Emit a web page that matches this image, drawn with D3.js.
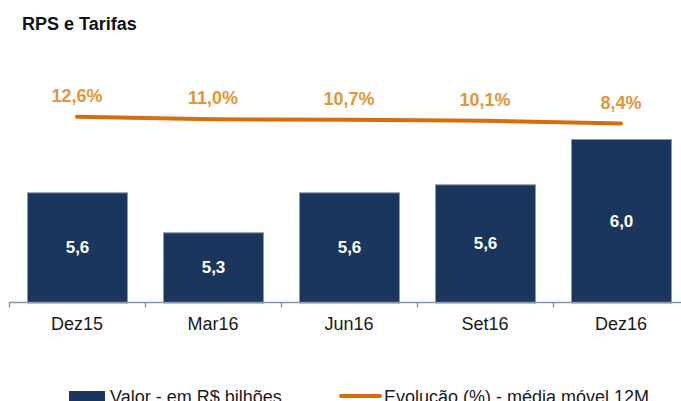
<!DOCTYPE html>
<html>
<head>
<meta charset="utf-8">
<script src="https://cdn.jsdelivr.net/npm/d3@7"></script>
<style>
  html, body { margin: 0; padding: 0; background: #fff; }
  svg { display: block; font-family: "Liberation Sans", Arial, sans-serif; }
</style>
</head>
<body>
<div id="root"></div>
<script>
// categories and series
const categories = ["Dez15", "Mar16", "Jun16", "Set16", "Dez16"];
const valores = [5.6, 5.3, 5.6, 5.66, 6.0];          // R$ bilhoes
const valorLabels = ["5,6", "5,3", "5,6", "5,6", "6,0"];
const evolucao = [12.6, 11.0, 10.7, 10.1, 8.4];      // % media movel 12M

const width = 681;
const height = 401;
const baseY = 302.5;

const svg = d3.select("#root").append("svg")
  .attr("width", width)
  .attr("height", height);

// title
svg.append("text")
  .attr("x", 22)
  .attr("y", 30)
  .attr("font-size", 18)
  .attr("font-weight", "bold")
  .attr("fill", "#111")
  .text("RPS e Tarifas");

// scales
const x = d3.scaleBand()
  .domain(categories)
  .range([9, 689])
  .paddingInner(0.265)
  .paddingOuter(0.1325);

const y = d3.scaleLinear()
  .domain([4.773, 6.0])
  .range([baseY, 139]);

const yLine = d3.scaleLinear()
  .domain([8.4, 12.6])
  .range([123.5, 116.7]);

const gap = (x.step() - x.bandwidth()) / 2;

// bars
svg.selectAll(".bar")
  .data(categories)
  .join("rect")
  .attr("class", "bar")
  .attr("x", d => x(d) + 0.5)
  .attr("y", (d, i) => y(valores[i]) + 0.5)
  .attr("width", x.bandwidth())
  .attr("height", (d, i) => baseY - y(valores[i]))
  .attr("fill", "#1b365d")
  .attr("stroke", "#8796ad")
  .attr("stroke-width", 1);

// bar labels
svg.selectAll(".bar-label")
  .data(categories)
  .join("text")
  .attr("class", "bar-label")
  .attr("x", d => x(d) + x.bandwidth() / 2 + 0.5)
  .attr("y", (d, i) => (y(valores[i]) + baseY) / 2 + 6)
  .attr("text-anchor", "middle")
  .attr("font-size", 17)
  .attr("font-weight", "bold")
  .attr("fill", "#fff")
  .text((d, i) => valorLabels[i]);

// axis line + ticks at category boundaries
svg.append("line")
  .attr("x1", 9).attr("x2", width)
  .attr("y1", baseY).attr("y2", baseY)
  .attr("stroke", "#8796ad")
  .attr("stroke-width", 1.5);

svg.selectAll(".tick")
  .data(categories)
  .join("line")
  .attr("class", "tick")
  .attr("x1", d => x(d) - gap + 0.5)
  .attr("x2", d => x(d) - gap + 0.5)
  .attr("y1", baseY)
  .attr("y2", baseY + 5)
  .attr("stroke", "#8796ad")
  .attr("stroke-width", 1.5);

svg.selectAll(".cat")
  .data(categories)
  .join("text")
  .attr("class", "cat")
  .attr("x", d => x(d) + x.bandwidth() / 2)
  .attr("y", 330)
  .attr("text-anchor", "middle")
  .attr("font-size", 18)
  .attr("fill", "#1a1a1a")
  .text(d => d);

// evolution line
const line = d3.line()
  .x((d, i) => x(categories[i]) + x.bandwidth() / 2)
  .y(d => yLine(d));

svg.append("path")
  .datum(evolucao)
  .attr("d", line)
  .attr("fill", "none")
  .attr("stroke", "#d46f0c")
  .attr("stroke-width", 4)
  .attr("stroke-linecap", "round");

svg.selectAll(".pct")
  .data(evolucao)
  .join("text")
  .attr("class", "pct")
  .attr("x", (d, i) => x(categories[i]) + x.bandwidth() / 2)
  .attr("y", d => yLine(d) - 15)
  .attr("text-anchor", "middle")
  .attr("font-size", 18)
  .attr("font-weight", "bold")
  .attr("fill", "#e2963a")
  .text(d => d.toFixed(1).replace(".", ",") + "%");

// legend
const legend = svg.append("g");
legend.append("rect")
  .attr("x", 69).attr("y", 391)
  .attr("width", 36).attr("height", 12)
  .attr("fill", "#1b365d");
legend.append("text")
  .attr("x", 110).attr("y", 403)
  .attr("font-size", 18)
  .attr("fill", "#1a1a1a")
  .text("Valor - em R$ bilhões");
legend.append("line")
  .attr("x1", 341).attr("x2", 380)
  .attr("y1", 396).attr("y2", 396)
  .attr("stroke", "#d46f0c")
  .attr("stroke-width", 4)
  .attr("stroke-linecap", "round");
legend.append("text")
  .attr("x", 384).attr("y", 403)
  .attr("font-size", 18)
  .attr("fill", "#1a1a1a")
  .text("Evolução (%) - média móvel 12M");
</script>
</body>
</html>
